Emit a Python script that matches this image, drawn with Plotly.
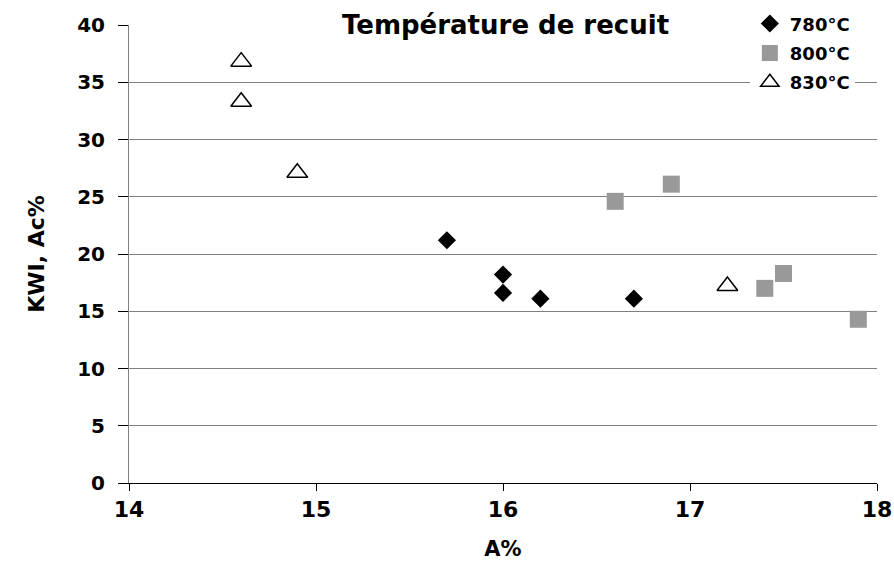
import plotly.graph_objects as go

x_780 = [15.7, 16.0, 16.0, 16.2, 16.7]
y_780 = [21.2, 18.2, 16.6, 16.1, 16.1]
x_800 = [16.6, 16.9, 17.4, 17.5, 17.9]
y_800 = [24.6, 26.1, 17.0, 18.3, 14.3]
x_830 = [14.6, 14.6, 14.9, 17.2]
y_830 = [36.8, 33.3, 27.1, 17.2]

FONT = "DejaVu Sans, Liberation Sans, Arial, sans-serif"

fig = go.Figure()
fig.add_trace(go.Scatter(x=x_780, y=y_780, mode="markers", name="780°C",
                         legendgroup="a",
                         marker=dict(symbol="diamond", size=14, color="black",
                                     line=dict(width=0))))
fig.add_trace(go.Scatter(x=x_800, y=y_800, mode="markers", name="800°C",
                         legendgroup="b",
                         marker=dict(symbol="square", size=17, color="#999999",
                                     line=dict(width=0))))
fig.add_trace(go.Scatter(x=x_830, y=y_830, mode="markers", name="830°C",
                         legendgroup="c",
                         marker=dict(symbol="triangle-up", size=18, color="white",
                                     line=dict(width=1.5, color="black"))))

fig.update_layout(
    width=894, height=566,
    margin=dict(l=129, r=17, t=25, b=83, autoexpand=False),
    paper_bgcolor="white", plot_bgcolor="white",
    font=dict(family=FONT, color="black"),
    showlegend=True,
    legend=dict(x=0.83, y=1.043, xanchor="left", yanchor="top",
                bgcolor="white", font=dict(size=18, family=FONT, weight="bold"),
                tracegroupgap=3, itemwidth=30),
    xaxis=dict(range=[14, 18], dtick=1, tick0=14, showgrid=False,
               showline=True, linecolor="black", linewidth=1,
               ticks="outside", ticklen=7, tickcolor="black",
               tickfont=dict(size=22, family=FONT, weight="bold"),
               ticklabeloverflow="allow",
               title=dict(text="A%", font=dict(size=21, weight="bold"), standoff=19),
               zeroline=False, automargin=False),
    yaxis=dict(range=[0, 40], dtick=5, tick0=0, showgrid=True,
               gridcolor="#808080", gridwidth=1,
               showline=True, linecolor="#808080", linewidth=1,
               ticks="outside", ticklen=10, tickcolor="black",
               tickfont=dict(size=20, family=FONT, weight="bold"),
               ticklabelstandoff=9,
               title=dict(text="KWI, Ac%", font=dict(size=22, weight="bold"), standoff=26),
               zeroline=False, automargin=False),
)

fig.add_annotation(x=0.503, y=1.0, xref="paper", yref="paper",
                   text="Température de recuit", showarrow=False,
                   bgcolor="white", font=dict(size=26, family=FONT, weight="bold"),
                   xanchor="center", yanchor="middle", borderpad=3)

fig.write_html("out.html", config={"displayModeBar": False},
               post_script="document.body.style.margin='0';document.body.style.overflow='hidden';")
